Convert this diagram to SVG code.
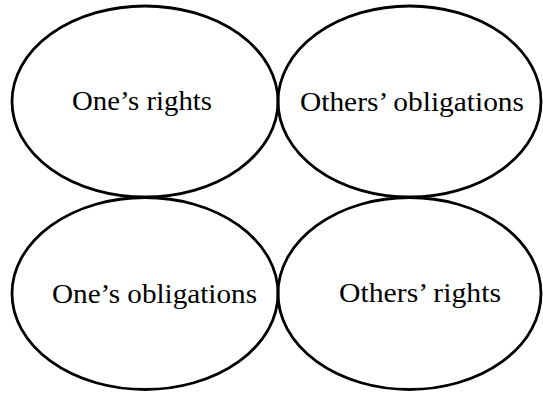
<svg xmlns="http://www.w3.org/2000/svg" width="543" height="393" viewBox="0 0 543 393">
<style>
.e{fill:none;stroke:#000;stroke-width:2.8}
.t{font-family:"Liberation Serif","Times New Roman",serif;font-size:27px;fill:#000}
</style>
<rect width="543" height="393" fill="#fff"/>
<g id="ones-rights"><ellipse class="e" cx="145" cy="101.5" rx="133" ry="95.5"/><text class="t" x="72" y="110" textLength="140" lengthAdjust="spacingAndGlyphs">One’s rights</text></g>
<g id="others-obligations"><ellipse class="e" cx="409.5" cy="101.5" rx="131.5" ry="95.5"/><text class="t" x="300" y="111" textLength="224" lengthAdjust="spacingAndGlyphs">Others’ obligations</text></g>
<g id="ones-obligations"><ellipse class="e" cx="145" cy="293.5" rx="133" ry="96"/><text class="t" x="52" y="303" textLength="205" lengthAdjust="spacingAndGlyphs">One’s obligations</text></g>
<g id="others-rights"><ellipse class="e" cx="409.5" cy="293.5" rx="131.5" ry="96"/><text class="t" x="339" y="302" textLength="162" lengthAdjust="spacingAndGlyphs">Others’ rights</text></g>
<g id="connectors"></g>
</svg>
